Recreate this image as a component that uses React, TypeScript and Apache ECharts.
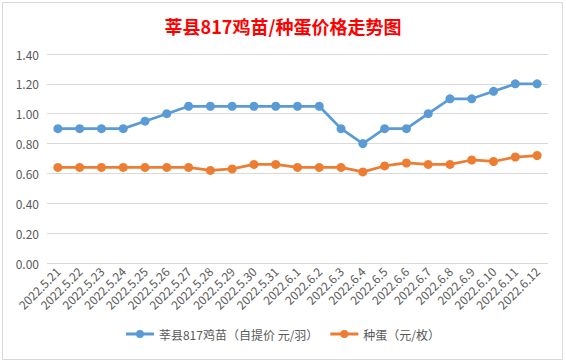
import React, { useEffect, useRef } from "react";
import * as echarts from "echarts";

const categories = [
  "2022.5.21", "2022.5.22", "2022.5.23", "2022.5.24", "2022.5.25", "2022.5.26",
  "2022.5.27", "2022.5.28", "2022.5.29", "2022.5.30", "2022.5.31", "2022.6.1",
  "2022.6.2", "2022.6.3", "2022.6.4", "2022.6.5", "2022.6.6", "2022.6.7",
  "2022.6.8", "2022.6.9", "2022.6.10", "2022.6.11", "2022.6.12",
];

const chickPrice = [
  0.9, 0.9, 0.9, 0.9, 0.95, 1.0, 1.05, 1.05, 1.05, 1.05, 1.05, 1.05,
  1.05, 0.9, 0.8, 0.9, 0.9, 1.0, 1.1, 1.1, 1.15, 1.2, 1.2,
];

const eggPrice = [
  0.64, 0.64, 0.64, 0.64, 0.64, 0.64, 0.64, 0.62, 0.63, 0.66, 0.66, 0.64,
  0.64, 0.64, 0.61, 0.65, 0.67, 0.66, 0.66, 0.69, 0.68, 0.71, 0.72,
];

const seriesNames = ["莘县817鸡苗（自提价 元/羽）", "种蛋（元/枚）"];
const title = "莘县817鸡苗/种蛋价格走势图";

const legendIcon =
  "path://M0,3.1L28,3.1L28,5.9L0,5.9Z M10,4.5A4,4 0 1,1 18,4.5A4,4 0 1,1 10,4.5Z";

export default function App() {
  const ref = useRef<HTMLDivElement>(null);
  useEffect(() => {
    document.body.style.margin = "0";
    const chart = echarts.init(ref.current!, null, { renderer: "svg" });
    const font = "'Microsoft YaHei', 'Noto Sans CJK SC', sans-serif";
    chart.setOption({
      animation: false,
      backgroundColor: "#ffffff",
      title: {
        text: title,
        left: "center",
        top: 12,
        textStyle: {
          color: "#ff0000",
          fontSize: 18,
          fontWeight: "bold",
          fontFamily: "'Noto Sans CJK SC', sans-serif",
        },
      },
      graphic: [
        {
          type: "rect",
          shape: { x: 2.5, y: 2.5, width: 560, height: 357 },
          style: { fill: "none", stroke: "#d9d9d9", lineWidth: 1 },
          silent: true,
        },
      ],
      grid: { left: 47, right: 18, top: 54, bottom: 100 },
      legend: {
        bottom: 18,
        left: "center",
        itemWidth: 28,
        itemHeight: 9,
        itemGap: 12,
        icon: legendIcon,
        textStyle: { color: "#595959", fontSize: 12, fontFamily: font },
        data: seriesNames,
      },
      xAxis: {
        type: "category",
        data: categories,
        boundaryGap: true,
        axisLine: { show: false },
        axisTick: { show: false },
        axisLabel: {
          rotate: 45,
          interval: 0,
          color: "#595959",
          fontSize: 12,
          margin: 6,
          fontFamily: font,
        },
      },
      yAxis: {
        type: "value",
        min: 0,
        max: 1.4,
        interval: 0.2,
        axisLine: { show: false },
        axisTick: { show: false },
        splitLine: { lineStyle: { color: "#d9d9d9", width: 1 } },
        axisLabel: {
          color: "#595959",
          fontSize: 12,
          margin: 8,
          fontFamily: font,
          formatter: (v: number) => v.toFixed(2),
        },
      },
      series: [
        {
          name: seriesNames[0],
          type: "line",
          data: chickPrice,
          symbol: "circle",
          symbolSize: 9,
          lineStyle: { color: "#5b9bd5", width: 2.75 },
          itemStyle: { color: "#5b9bd5" },
        },
        {
          name: seriesNames[1],
          type: "line",
          data: eggPrice,
          symbol: "circle",
          symbolSize: 9,
          lineStyle: { color: "#ed7d31", width: 2.75 },
          itemStyle: { color: "#ed7d31" },
        },
      ],
    });
    return () => chart.dispose();
  }, []);
  return <div ref={ref} style={{ width: 566, height: 363 }} />;
}
